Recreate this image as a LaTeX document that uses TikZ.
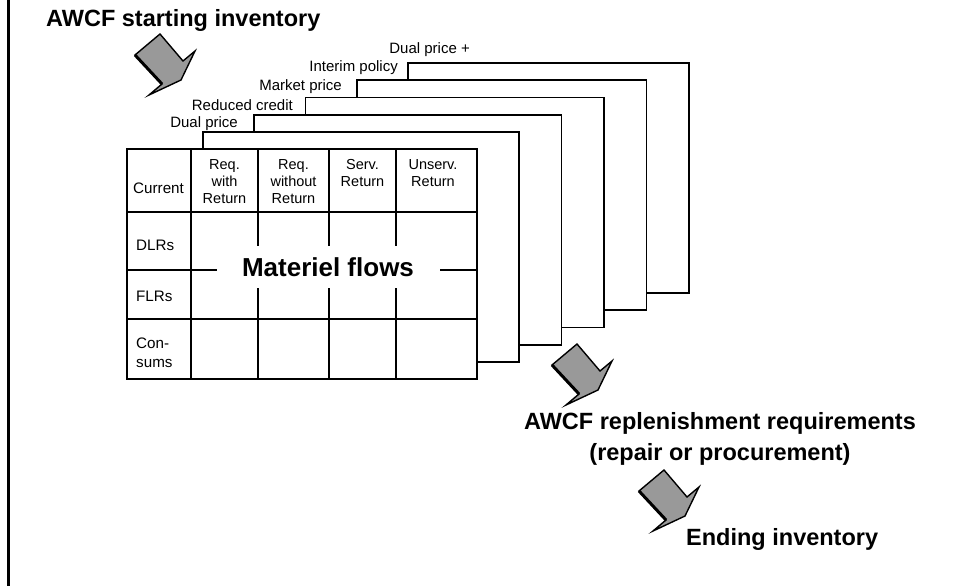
\documentclass[tikz,border=0pt]{standalone}
\usepackage{fontspec}
\setmainfont{Liberation Sans}
\begin{document}
\begin{tikzpicture}[x=1pt,y=-1pt,
  sheet/.style={draw, line width=1.8pt, fill=white, inner sep=0pt, anchor=north west},
  gridline/.style={line width=1.6pt},
  tag/.style={font=\fontsize{15}{17}\selectfont, inner sep=0pt, anchor=base east},
  cell/.style={font=\fontsize{14.5}{17}\selectfont, inner sep=0pt, align=center, anchor=base},
  rowhead/.style={font=\fontsize{15.2}{17}\selectfont, inner sep=0pt, anchor=base west},
  title/.style={font=\bfseries\fontsize{23.5}{31}\selectfont, inner sep=0pt},
  bigarrow/.pic={
    \fill[black!40] (0,0) -- (25,-21) -- (48,6) -- (60,-4) -- (46,25) -- (14,40) -- (27,29) -- cycle;
    \draw[line width=1.4pt, line join=miter]
      (0,0) -- (25,-21) -- (48,6) -- (60,-4) -- (46,25) -- (14,40) -- (27,29) -- cycle;
    \draw[line width=3pt] (27,29) -- (0,0);
  }]
\useasboundingbox (0,0) rectangle (961,586);

% frame edge on the left
\draw[line width=2.5pt] (8.5,0) -- (8.5,586);

% stacked policy sheets, back to front
\foreach \k/\nm in {4/s5,3/s4,2/s3,1/s2,0/s1} {
  \node[sheet, minimum width={316-8.75*\k}, minimum height=230] (\nm)
    at ({202+51.25*\k},{131-17.25*\k}) {};
}

% front sheet: the table
\node[sheet, minimum width=350, minimum height=230] (tab) at (126,148) {};
\foreach \xx in {191,258,329,396} \draw[gridline] (\xx,148) -- (\xx,378);
\foreach \yy in {212,270,319} \draw[gridline] (126,\yy) -- (476,\yy);

\node[fill=white, inner sep=0pt, minimum width=223, minimum height=42,
      font=\bfseries\fontsize{26}{30}\selectfont] (flows) at (328,267) {Materiel flows};

% sheet labels
\node[tag] (l1) at (238,127.5) {Dual price};
\node[tag] (l2) at (293,110.5) {Reduced credit};
\node[tag] (l3) at (342,90.5) {Market price};
\node[tag] (l4) at (398,71.7) {Interim policy};
\node[tag] (l5) at (470,54) {Dual price +};

% table headings (anchored on the baseline of the last line)
\node[rowhead] (hcur) at (133,193) {Current};
\node[cell] (h1) at (224.5,203.3) {Req.\\with\\Return};
\node[cell] (h2) at (293.5,203.3) {Req.\\without\\Return};
\node[cell] (h3) at (362.5,186.3) {Serv.\\Return};
\node[cell] (h4) at (433,186.3) {Unserv.\\Return};
\node[rowhead] (rdlr) at (136,250) {DLRs};
\node[rowhead] (rflr) at (136,301) {FLRs};
\node[rowhead] (rcon1) at (136,348) {Con-};
\node[rowhead] (rcon2) at (136,367) {sums};

% flow arrows
\pic at (135,55) {bigarrow};
\pic at (552,365) {bigarrow};
\pic at (639,491) {bigarrow};

% captions
\node[title, anchor=base west] (start) at (46,27) {AWCF starting inventory};
\node[title, anchor=base, align=center] (repl) at (720,460)
  {AWCF replenishment requirements\\(repair or procurement)};
\node[title, anchor=base west] (endinv) at (686,545) {Ending inventory};
\end{tikzpicture}
\end{document}
